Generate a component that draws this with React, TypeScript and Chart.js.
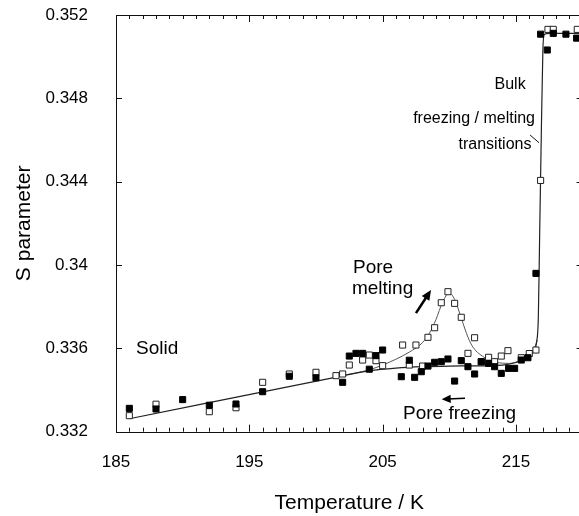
import React, { useEffect, useRef } from 'react';
import { Chart, registerables } from 'chart.js';
Chart.register(...registerables);

const FONT = '"Liberation Sans", Arial, Helvetica, sans-serif';

const X_MIN = 185;
const X_MAX = 220;
const Y_MIN = 0.332;
const Y_MAX = 0.352;
const X_TICKS = [185, 195, 205, 215];
const Y_TICKS = [0.332, 0.336, 0.34, 0.344, 0.348, 0.352];

// Pore melting (open squares)
const meltT = [186, 188, 192, 194, 196, 198, 200, 201.5, 202, 202.5, 203.5, 204, 204.5, 205, 206.5, 207, 207.5, 208, 208.4, 208.9, 209.4, 209.9, 210.4, 210.9, 211.4, 211.9, 212.4, 212.95, 213.4, 213.9, 214.4, 215.4, 216, 216.5, 216.85, 217.4, 217.8, 219.6];
const meltS = [0.33277, 0.33332, 0.33296, 0.33315, 0.33437, 0.33477, 0.33485, 0.33469, 0.33477, 0.3352, 0.33544, 0.33568, 0.33541, 0.33517, 0.33616, 0.3352, 0.33616, 0.33515, 0.33653, 0.33699, 0.33819, 0.33872, 0.33816, 0.33749, 0.33576, 0.33651, 0.33536, 0.33557, 0.33536, 0.33563, 0.33589, 0.33555, 0.33575, 0.33592, 0.34406, 0.35131, 0.35131, 0.35131];

// Pore freezing (filled squares)
const freezeT = [186, 188, 190, 192, 194, 196, 198, 200, 202, 202.5, 203, 203.5, 204, 204.5, 205, 206.4, 207, 207.4, 207.9, 208.4, 208.9, 209.4, 209.9, 210.4, 210.9, 211.4, 211.9, 212.4, 212.95, 213.4, 213.9, 214.45, 214.9, 215.4, 215.9, 216.5, 216.85, 217.35, 217.8, 218.75, 219.55];
const freezeS = [0.33312, 0.33309, 0.33354, 0.33327, 0.33333, 0.33392, 0.33466, 0.33459, 0.33437, 0.33563, 0.33576, 0.33576, 0.335, 0.33565, 0.33592, 0.33464, 0.33543, 0.33461, 0.33488, 0.33515, 0.33533, 0.33536, 0.33549, 0.33443, 0.33541, 0.33512, 0.33477, 0.33536, 0.33528, 0.33512, 0.3348, 0.33504, 0.33504, 0.33544, 0.33555, 0.3396, 0.35108, 0.35032, 0.35112, 0.35108, 0.35089];

// Fitted curves
const fitLowT = [186, 202, 204, 206, 208, 210, 212, 214, 215, 215.8, 216.3, 216.55, 216.68, 216.78, 216.9, 217.02, 217.12, 217.5, 220];
const fitLowS = [0.33262, 0.33468, 0.33492, 0.33505, 0.33512, 0.33515, 0.33516, 0.3352, 0.33532, 0.33555, 0.33585, 0.3363, 0.3375, 0.3415, 0.3462, 0.3503, 0.35106, 0.35112, 0.35112];
const fitMeltT = [202, 203, 204, 205, 206, 207, 208, 208.5, 209, 209.5, 210, 210.4, 210.8, 211.2, 211.6, 212, 212.5, 213, 213.5, 214.5, 215.3, 216, 216.4, 216.6];
const fitMeltS = [0.3347, 0.33482, 0.33497, 0.3352, 0.33548, 0.33582, 0.33628, 0.33672, 0.33738, 0.33822, 0.33866, 0.33835, 0.33765, 0.33688, 0.33625, 0.33588, 0.33562, 0.33543, 0.33533, 0.33528, 0.33542, 0.33572, 0.33605, 0.3364];

const toXY = (xs: number[], ys: number[]) => xs.map((x, i) => ({ x, y: ys[i] }));

const overlay = {
  id: 'overlay',
  afterDraw(chart: any) {
    const { ctx, chartArea: a } = chart;
    const sx = chart.scales.x;
    const sy = chart.scales.y;
    const X = (v: number) => sx.getPixelForValue(v);
    const Y = (v: number) => sy.getPixelForValue(v);
    ctx.save();
    ctx.strokeStyle = '#111';
    ctx.lineWidth = 1;
    const seg = (x1: number, y1: number, x2: number, y2: number) => {
      ctx.beginPath();
      ctx.moveTo(x1, y1);
      ctx.lineTo(x2, y2);
      ctx.stroke();
    };
    // frame
    ctx.strokeRect(Math.round(a.left) + 0.5, Math.round(a.top) + 0.5, Math.round(a.right - a.left), Math.round(a.bottom - a.top));
    // inward ticks
    for (let t = X_MIN; t <= X_MAX; t++) {
      const px = Math.round(X(t)) + 0.5;
      const len = X_TICKS.includes(t) ? 7 : 4;
      seg(px, a.bottom, px, a.bottom - len);
      seg(px, a.top, px, a.top + len);
    }
    for (const v of Y_TICKS) {
      const py = Math.round(Y(v)) + 0.5;
      seg(a.left, py, a.left + 6, py);
      seg(a.right, py, a.right - 6, py);
    }
    // annotations
    ctx.fillStyle = '#000';
    ctx.textBaseline = 'middle';
    ctx.font = `19px ${FONT}`;
    ctx.textAlign = 'left';
    ctx.fillText('Solid', X(186.5), Y(0.33597));
    ctx.fillText('Pore', X(202.78), Y(0.33986));
    ctx.fillText('melting', X(202.7), Y(0.33885));
    ctx.fillText('Pore freezing', X(206.53), Y(0.33285));
    ctx.font = `16px ${FONT}`;
    ctx.textAlign = 'center';
    ctx.fillText('Bulk', X(214.56), Y(0.34864));
    ctx.textAlign = 'right';
    ctx.fillText('freezing / melting', X(216.43), Y(0.34705));
    ctx.textAlign = 'center';
    ctx.fillText('transitions', X(213.43), Y(0.3458));
    // leader line
    ctx.lineWidth = 1;
    seg(X(216.06), Y(0.34624), X(216.73), Y(0.34587));
    // arrows
    const arrow = (t1: number, v1: number, t2: number, v2: number, w: number, head: number) => {
      const x1 = X(t1), y1 = Y(v1), x2 = X(t2), y2 = Y(v2);
      const ang = Math.atan2(y2 - y1, x2 - x1);
      ctx.lineWidth = w;
      ctx.strokeStyle = '#000';
      seg(x1, y1, x2 - Math.cos(ang) * head * 0.6, y2 - Math.sin(ang) * head * 0.6);
      ctx.beginPath();
      ctx.moveTo(x2, y2);
      ctx.lineTo(x2 - head * Math.cos(ang) + head * 0.45 * Math.sin(ang), y2 - head * Math.sin(ang) - head * 0.45 * Math.cos(ang));
      ctx.lineTo(x2 - head * Math.cos(ang) - head * 0.45 * Math.sin(ang), y2 - head * Math.sin(ang) + head * 0.45 * Math.cos(ang));
      ctx.closePath();
      ctx.fill();
    };
    arrow(207.5, 0.33769, 208.63, 0.3388, 2.5, 10);
    arrow(211.18, 0.3336, 209.43, 0.33356, 1.5, 9);
    ctx.restore();
  },
};

export default function App() {
  const ref = useRef<HTMLCanvasElement>(null);
  useEffect(() => {
    if (!ref.current) return;
    const chart = new Chart(ref.current, {
      type: 'scatter',
      data: {
        datasets: [
          {
            type: 'scatter',
            label: 'Pore freezing',
            data: toXY(freezeT, freezeS),
            pointStyle: 'rect',
            pointRadius: 4.3,
            backgroundColor: '#000',
            borderColor: '#000',
            borderWidth: 1,
            order: 0,
          },
          {
            type: 'scatter',
            label: 'Pore melting',
            data: toXY(meltT, meltS),
            pointStyle: 'rect',
            pointRadius: 4.3,
            backgroundColor: '#fff',
            borderColor: '#222',
            borderWidth: 1,
            order: 1,
          },
          {
            type: 'line',
            label: 'Freezing fit',
            data: toXY(fitLowT, fitLowS),
            showLine: true,
            pointRadius: 0,
            borderColor: '#222',
            borderWidth: 1.2,
            cubicInterpolationMode: 'monotone',
            fill: false,
            order: 2,
          },
          {
            type: 'line',
            label: 'Melting fit',
            data: toXY(fitMeltT, fitMeltS),
            showLine: true,
            pointRadius: 0,
            borderColor: '#555',
            borderWidth: 1,
            cubicInterpolationMode: 'monotone',
            fill: false,
            order: 3,
          },
        ],
      },
      options: {
        responsive: false,
        animation: false,
        layout: { padding: { top: 15, right: 17.4, left: 0, bottom: 0 } },
        plugins: { legend: { display: false }, tooltip: { enabled: false } },
        scales: {
          x: {
            type: 'linear',
            min: X_MIN,
            max: X_MAX,
            afterBuildTicks: (s: any) => {
              s.ticks = X_TICKS.map((v) => ({ value: v }));
            },
            afterFit: (s: any) => {
              s.height = 84.3;
              s.paddingLeft = 0;
              s.paddingRight = 0;
            },
            ticks: { color: '#000', font: { size: 17, family: FONT }, padding: 20, maxRotation: 0, autoSkip: false },
            grid: { display: false, drawTicks: false },
            border: { display: false },
            title: { display: true, text: 'Temperature / K', color: '#000', font: { size: 21, family: FONT }, padding: { top: 0, bottom: 0 } },
          },
          y: {
            type: 'linear',
            min: Y_MIN,
            max: Y_MAX,
            afterBuildTicks: (s: any) => {
              s.ticks = Y_TICKS.map((v) => ({ value: v }));
            },
            afterFit: (s: any) => {
              s.width = 116;
              s.paddingTop = 0;
              s.paddingBottom = 0;
            },
            ticks: {
              color: '#000',
              font: { size: 17, family: FONT },
              padding: 28,
              callback: (v: any) => String(parseFloat(Number(v).toFixed(3))),
            },
            grid: { display: false, drawTicks: false },
            border: { display: false },
            title: { display: true, text: 'S parameter', color: '#000', font: { size: 21, family: FONT }, padding: { top: 12, bottom: 0 } },
          },
        },
      },
      plugins: [overlay],
    } as any);
    return () => chart.destroy();
  }, []);
  return (
    <div style={{ position: 'absolute', left: 0, top: 0, width: 579, height: 516, overflow: 'hidden', background: '#fff' }}>
      <canvas ref={ref} width={600} height={516} style={{ display: 'block', width: 600, height: 516 }} />
    </div>
  );
}
